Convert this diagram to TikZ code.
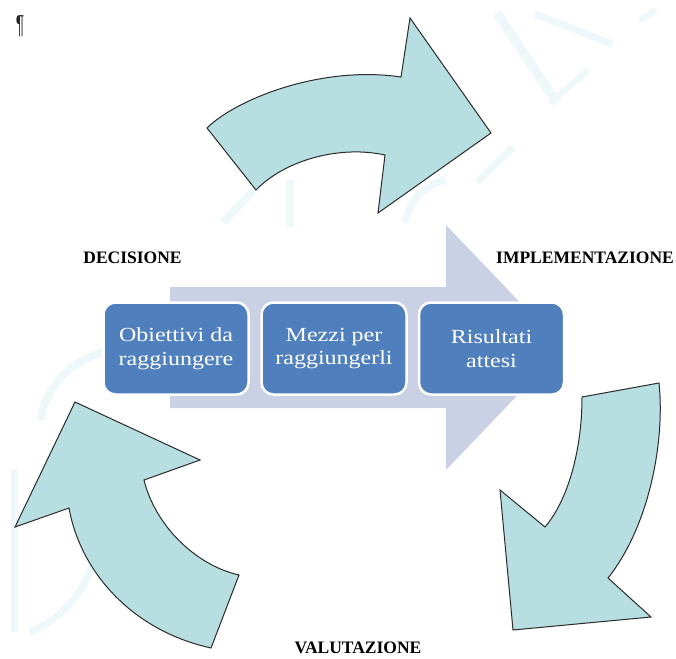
\documentclass[tikz,border=0pt]{standalone}
\usepackage{fontspec}
\setmainfont{Liberation Serif}
\newfontfamily\boxfont[FakeStretch=1.2]{Liberation Serif}
\newfontfamily\markfont{Liberation Sans}
\definecolor{cyclefill}{HTML}{B7DEE1}
\definecolor{cycleline}{HTML}{2B2B2B}
\definecolor{flowfill}{HTML}{CBD1E4}
\definecolor{stepfill}{HTML}{4F80BD}
\definecolor{wmark}{HTML}{EEF7F9}
\tikzset{
  cyclearrow/.style={fill=cyclefill, draw=cycleline, line width=1pt, line join=miter},
  flowarrow/.style={fill=flowfill, draw=none},
  stepbox/.style={rectangle, rounded corners=12pt, fill=stepfill, draw=white,
    line width=2.5pt, minimum width=145pt, minimum height=92pt, text=white,
    align=center, font=\boxfont\fontsize{20}{23.5}\selectfont, inner sep=0pt},
  phase/.style={font=\bfseries\fontsize{17.5}{20}\selectfont, anchor=base, inner sep=0pt},
  wm/.style={draw=wmark, line width=9pt, line cap=butt}
}
\begin{document}
\begin{tikzpicture}[x=1pt, y=-1pt]
  \useasboundingbox (0,0) rectangle (676,658);
  \fill[white] (0,0) rectangle (676,658);

  % faint background lettering
  \draw[wm] (497,13) -- (557,103);
  \draw[wm, line width=7pt] (535,14) -- (612,44);
  \draw[wm, line width=6pt] (640,20) -- (656,10);
  \draw[wm, line width=6pt] (550,103) -- (588,70);
  \draw[wm, line width=7pt] (477,182) -- (513,147);
  \draw[wm, line width=8pt] (223,222) -- (257,187);
  \draw[wm, line width=8pt] (290,180) -- (290,226);
  \draw[wm, line width=7pt] (405,222) .. controls (410,200) and (425,185) .. (445,180);
  \draw[wm, line width=8pt] (40,420) .. controls (48,380) and (80,352) .. (120,350);
  \draw[wm, line width=7pt] (14,470) -- (14,632);
  \draw[wm, line width=7pt] (30,632) .. controls (60,620) and (90,590) .. (96,548);

  % pilcrow mark
  \node[inner sep=0pt, text=black!85, font=\markfont\fontsize{26}{28}\selectfont, xscale=0.6]
    (pilcrow) at (20,26) {\P};

  % cycle arrows
  \path[cyclearrow] (207,128) .. controls (235,100) and (320,65) .. (401,77)
    -- (410,18) -- (491,133) -- (378,213) -- (385,155)
    .. controls (340,145) and (285,160) .. (256,190) -- cycle;
  \path[cyclearrow] (582,397) -- (659,383)
    .. controls (665,440) and (650,525) .. (608,578)
    -- (651,617) -- (513,630) -- (500,490) -- (545,527)
    .. controls (568,500) and (582,450) .. cycle;
  \path[cyclearrow] (239,575) .. controls (195,565) and (155,525) .. (144,480)
    -- (200,460) -- (75,402) -- (15,527) -- (69,508)
    .. controls (80,570) and (130,630) .. (211,648) -- cycle;

  % process arrow behind the steps
  \path[flowarrow] (170,287) -- (446,287) -- (446,225) -- (563,347.5)
    -- (446,470) -- (446,408) -- (170,408) -- cycle;

  % steps
  \node[stepbox] (obiettivi) at (176,348.5) {Obiettivi da\\raggiungere};
  \node[stepbox] (mezzi) at (334,348.5) {Mezzi per\\raggiungerli};
  \node[stepbox] (risultati) at (491.5,348.5) {Risultati\\attesi};

  % phase labels
  \node[phase] (decisione) at (132.5,263) {DECISIONE};
  \node[phase] (implementazione) at (585,263) {IMPLEMENTAZIONE};
  \node[phase] (valutazione) at (358,653) {VALUTAZIONE};
\end{tikzpicture}
\end{document}
